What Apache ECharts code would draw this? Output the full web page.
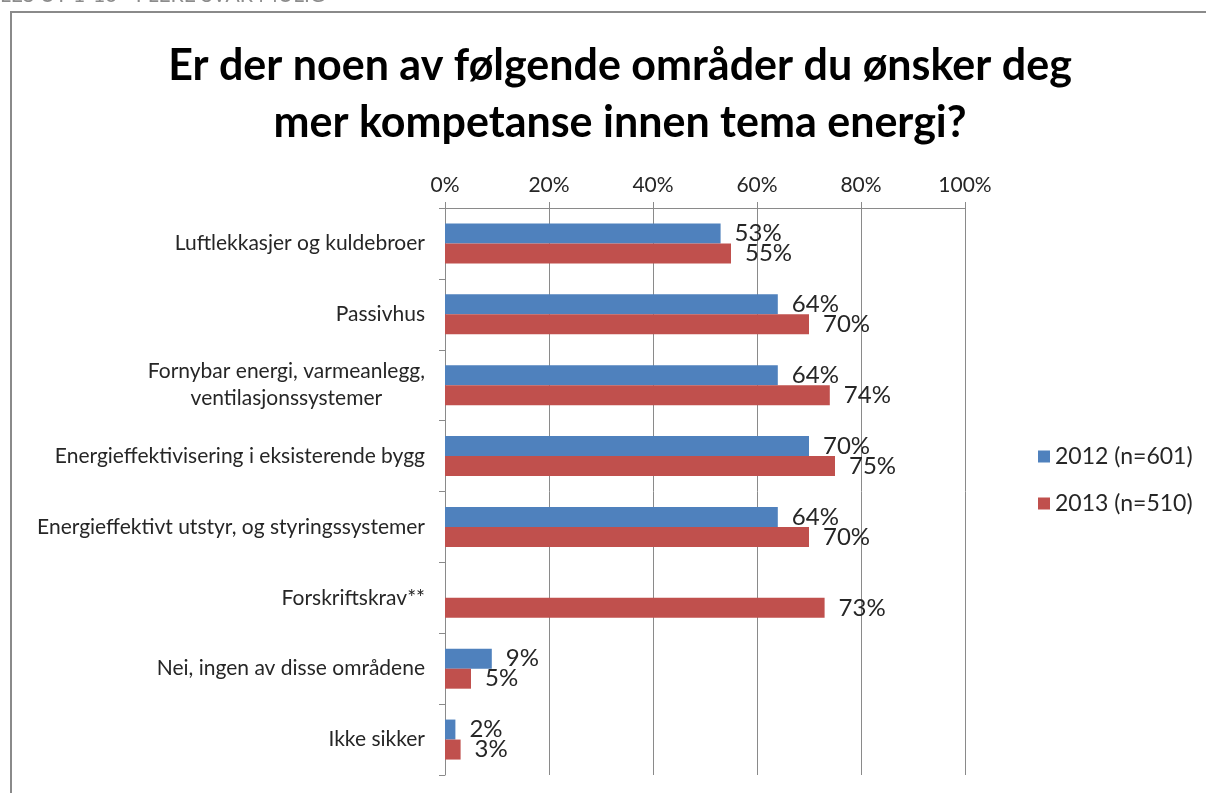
<!DOCTYPE html>
<html lang="no">
<head>
    <meta charset="UTF-8">
    <title>Kompetanse energi</title>
    <script src="https://cdn.jsdelivr.net/npm/echarts@6/dist/echarts.min.js"></script>
    <style>
        html, body {margin:0; padding:0; background:#fff}
    </style>
</head>
<body>
<div id="main" style="width:1206px; height:793px;"></div>
<script>
    // kategorier og verdier (prosent)
    var kategorier = [
        'Luftlekkasjer og kuldebroer',
        'Passivhus',
        'Fornybar energi, varmeanlegg,\nventilasjonssystemer',
        'Energieffektivisering i eksisterende bygg',
        'Energieffektivt utstyr, og styringssystemer',
        'Forskriftskrav**',
        'Nei, ingen av disse områdene',
        'Ikke sikker'
    ];
    var verdier2012 = [53, 64, 64, 70, 64, null, 9, 2];
    var verdier2013 = [55, 70, 74, 75, 70, 73, 5, 3];
    var serieNavn = ['2012 (n=601)', '2013 (n=510)'];
    var aksetikker = ['0%', '20%', '40%', '60%', '80%', '100%'];

    var font = 'Lato, "Noto Sans", sans-serif';
    var chart = echarts.init(document.getElementById('main'));

    var etikett = {
        show: true,
        position: 'right',
        distance: 14,
        fontFamily: font,
        fontSize: 24,
        color: '#262626',
        formatter: function (p) { return p.value == null ? '' : p.value + '%'; }
    };

    chart.setOption({
        animation: false,
        graphic: [
            {
                type: 'text', left: 0, top: -15,
                style: {text: 'LES UT 1-10 - FLERE SVAR MULIG', fontFamily: font, fontSize: 21, fill: '#8c8c8c'}
            },
            {
                type: 'rect', shape: {x: 11, y: 12, width: 1220, height: 800},
                style: {fill: 'none', stroke: '#8a8a8a', lineWidth: 2}
            }
        ],
        title: {
            text: 'Er der noen av følgende områder du ønsker deg\nmer kompetanse innen tema energi?',
            left: 615,
            textAlign: 'center',
            top: 33,
            textStyle: {fontFamily: font, fontSize: 43, fontWeight: 'bold', color: '#000', lineHeight: 57}
        },
        legend: {
            orient: 'vertical',
            left: 1033,
            top: 440,
            itemWidth: 12,
            itemHeight: 12,
            itemGap: 24,
            icon: 'rect',
            data: serieNavn,
            textStyle: {fontFamily: font, fontSize: 23, color: '#262626'}
        },
        grid: {left: 445, right: 241, top: 208, bottom: 18, containLabel: false},
        xAxis: {
            type: 'value',
            position: 'top',
            min: 0,
            max: 100,
            interval: 20,
            axisLine: {show: true, lineStyle: {color: '#8a8a8a', width: 1}},
            axisTick: {show: true, length: 6, lineStyle: {color: '#8a8a8a'}},
            splitLine: {show: true, lineStyle: {color: '#8a8a8a', width: 1}},
            axisLabel: {
                margin: 12,
                fontFamily: font, fontSize: 21, color: '#262626',
                formatter: function (v) { return aksetikker[v / 20]; }
            }
        },
        yAxis: {
            type: 'category',
            inverse: true,
            data: kategorier,
            axisLine: {show: true, lineStyle: {color: '#8a8a8a', width: 1}},
            axisTick: {show: true, length: 6, lineStyle: {color: '#8a8a8a'}},
            axisLabel: {
                margin: 20,
                fontFamily: font, fontSize: 21, color: '#262626', lineHeight: 27,
                formatter: function (v) {
                    if (v.indexOf('\n') < 0) return v;
                    return v.split('\n').map(function (s) { return '{c|' + s + '}'; }).join('\n');
                },
                rich: {c: {align: 'center', fontFamily: font, fontSize: 21, color: '#262626', lineHeight: 27}}
            }
        },
        series: [
            {
                name: serieNavn[0], type: 'bar', data: verdier2012,
                barWidth: 20, barGap: '0%',
                itemStyle: {color: '#4F81BD'},
                label: etikett
            },
            {
                name: serieNavn[1], type: 'bar', data: verdier2013,
                barWidth: 20, barGap: '0%',
                itemStyle: {color: '#C0504D'},
                label: etikett
            }
        ]
    });
</script>
</body>
</html>
